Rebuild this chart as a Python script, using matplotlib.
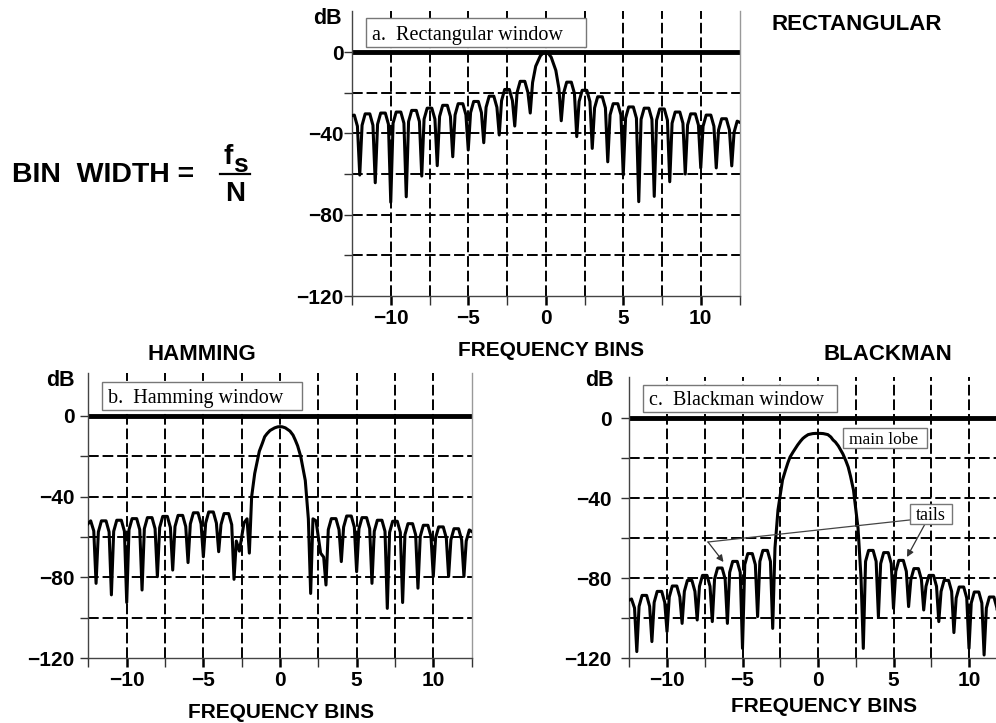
import numpy as np
import matplotlib
matplotlib.use('Agg')
import matplotlib.pyplot as plt
from matplotlib.patches import Rectangle, FancyArrowPatch
from matplotlib.lines import Line2D
from matplotlib.ticker import FixedLocator, NullFormatter, FixedFormatter

plt.rcParams['font.family'] = ['Liberation Sans', 'DejaVu Sans']
SERIF = ['Liberation Serif', 'DejaVu Serif']

# ------------------------------------------------------------
# data: spectrum level (dB)
# one row per frequency bin n, values at n + offsets
# (null at the bin itself, then four points along the lobe)
# ------------------------------------------------------------
offsets = [0.0, 0.15, 0.35, 0.65, 0.85]
bins = list(range(-13, 13))

rect_db = [
    [-60.0, -37.0, -31.5, -31.0, -36.5],   # -13
    [-60.5, -36.0, -30.4, -30.4, -36.0],   # -12
    [-64.3, -35.5, -30.0, -30.0, -35.5],   # -11
    [-73.9, -35.0, -29.5, -29.5, -35.0],   # -10
    [-71.2, -34.2, -28.7, -28.7, -34.2],   # -9
    [-61.0, -33.0, -27.6, -27.6, -33.0],   # -8
    [-55.9, -31.7, -26.2, -26.2, -31.7],   # -7
    [-51.5, -30.9, -25.4, -25.4, -30.9],   # -6
    [-48.2, -29.8, -24.3, -24.3, -29.8],   # -5
    [-44.6, -27.2, -21.7, -21.7, -27.2],   # -4
    [-40.8, -23.9, -18.4, -18.4, -23.9],   # -3
    [-36.4, -19.9, -14.4, -14.4, -19.9],   # -2
    [-30.0, -15.0, -7.0, -1.9, -0.3],      # -1
    [0.0, -0.5, -2.5, -9.0, -18.0],        # 0
    [-33.8, -20.3, -14.8, -14.8, -20.3],   # 1
    [-41.6, -24.3, -18.8, -18.8, -24.3],   # 2
    [-47.4, -27.5, -22.0, -22.0, -27.5],   # 3
    [-54.0, -30.9, -25.4, -25.4, -30.9],   # 4
    [-60.5, -32.5, -27.0, -27.0, -32.5],   # 5
    [-73.6, -33.1, -27.6, -27.6, -33.1],   # 6
    [-71.0, -33.5, -28.0, -28.0, -33.5],   # 7
    [-63.8, -35.0, -29.5, -29.5, -35.0],   # 8
    [-60.0, -35.9, -30.4, -30.4, -35.9],   # 9
    [-57.0, -36.5, -31.0, -31.0, -36.5],   # 10
    [-57.0, -38.3, -32.8, -32.8, -38.3],   # 11
    [-56.0, -39.5, -34.0, -35.0, -41.0],   # 12
]
rect_end = -60.0

ham_db = [
    [-80.0, -59.0, -54.5, -52.0, -57.0],   # -13
    [-83.0, -57.5, -52.0, -52.0, -57.5],   # -12
    [-88.7, -57.2, -51.7, -51.7, -57.2],   # -11
    [-92.5, -56.4, -50.9, -50.9, -56.4],   # -10
    [-86.3, -55.9, -50.4, -50.4, -55.9],   # -9
    [-79.7, -55.3, -49.8, -49.8, -55.3],   # -8
    [-76.4, -54.8, -49.3, -49.3, -54.8],   # -7
    [-72.7, -53.5, -48.0, -48.0, -53.5],   # -6
    [-69.8, -53.1, -47.6, -47.6, -53.1],   # -5
    [-67.3, -53.9, -48.4, -48.4, -53.9],   # -4
    [-81.0, -62.0, -67.0, -53.0, -51.0],   # -3
    [-68.0, -40.0, -28.5, -17.5, -13.5],   # -2
    [-10.3, -8.8, -7.2, -5.9, -5.4],       # -1
    [-5.3, -5.4, -5.9, -7.5, -9.5],        # 0
    [-12.0, -14.8, -20.0, -32.0, -51.0],   # 1
    [-88.0, -51.0, -52.0, -68.0, -70.0],   # 2
    [-83.8, -56.4, -50.9, -50.9, -56.4],   # 3
    [-72.2, -55.1, -49.6, -49.6, -55.1],   # 4
    [-77.2, -55.9, -50.4, -50.4, -55.9],   # 5
    [-83.0, -57.2, -51.7, -51.7, -57.2],   # 6
    [-95.4, -57.7, -52.2, -52.2, -57.7],   # 7
    [-92.5, -58.9, -53.4, -53.4, -58.9],   # 8
    [-85.4, -59.7, -54.2, -54.2, -59.7],   # 9
    [-79.6, -60.5, -55.0, -55.0, -60.5],   # 10
    [-79.6, -61.4, -55.9, -55.9, -61.4],   # 11
    [-79.6, -62.0, -56.5, -58.0, -63.0],   # 12
]
ham_end = -80.0

black_db = [
    [-110.0, -96.0, -91.5, -90.5, -95.0],  # -13
    [-116.8, -94.2, -88.7, -88.7, -94.2],  # -12
    [-111.8, -92.2, -86.7, -86.7, -92.2],  # -11
    [-106.8, -89.5, -84.0, -84.0, -89.5],  # -10
    [-102.7, -86.7, -81.2, -81.2, -86.7],  # -9
    [-101.0, -84.2, -78.7, -78.7, -84.2],  # -8
    [-101.8, -80.5, -75.0, -75.0, -80.5],  # -7
    [-102.7, -77.2, -71.7, -71.7, -77.2],  # -6
    [-115.2, -73.3, -67.8, -67.8, -73.3],  # -5
    [-99.3, -71.7, -66.2, -66.2, -71.7],   # -4
    [-105.2, -65.0, -46.0, -31.0, -26.0],  # -3
    [-22.5, -19.5, -17.0, -13.5, -11.5],   # -2
    [-10.2, -9.3, -8.3, -7.8, -7.7],       # -1
    [-7.7, -7.7, -7.8, -8.3, -9.5],        # 0
    [-11.0, -12.0, -14.0, -18.0, -21.5],   # 1
    [-24.5, -29.0, -36.0, -55.0, -80.0],   # 2
    [-115.2, -71.7, -66.2, -66.2, -71.7],  # 3
    [-99.3, -72.8, -67.3, -67.3, -72.8],   # 4
    [-95.2, -76.7, -71.2, -71.2, -76.7],   # 5
    [-94.3, -80.8, -75.3, -75.3, -80.8],   # 6
    [-96.0, -84.2, -78.7, -78.7, -84.2],   # 7
    [-101.8, -86.7, -81.2, -81.2, -86.7],  # 8
    [-107.3, -90.0, -84.5, -84.5, -90.0],  # 9
    [-115.2, -92.5, -87.0, -87.0, -92.5],  # 10
    [-118.5, -95.0, -89.5, -89.5, -95.0],  # 11
    [-110.0, -96.5, -91.0, -91.0, -96.5],  # 12
]
black_end = -112.0

x_major = [-10, -5, 0, 5, 10]
x_labels = ['\u221210', '\u22125', '0', '5', '10']
x_minor = [-12.5, -7.5, -2.5, 2.5, 7.5, 12.5]
y_major = [0, -40, -80, -120]
y_labels = ['0', '\u221240', '\u221280', '\u2212120']
y_minor = [-20, -60, -100]

# ------------------------------------------------------------
W, H = 996, 723
fig = plt.figure(figsize=(W / 100, H / 100), dpi=100)
fig.patch.set_facecolor('white')


def fx(px):
    return px / W


def fy(py):
    return 1 - py / H


def make_panel(x0, x1, ytop, ybot, top_db, rows, end, ypad):
    ax = fig.add_axes([fx(x0), fy(ybot), (x1 - x0) / W, (ybot - ytop) / H])
    ax.set_xlim(-12.5, 12.5)
    ax.set_ylim(-120, top_db)

    # grid (dashed) behind the curve
    dash = (0, (5.5, 2))
    for gx in x_major + x_minor[1:-1]:
        ax.axvline(gx, color='black', lw=1.4, ls=dash, zorder=1)
    for gy in [-20, -40, -60, -80, -100]:
        ax.axhline(gy, color='black', lw=1.4, ls=dash, zorder=1)
    ax.axhline(0, color='black', lw=3.5, zorder=2)

    xs = np.array([b + o for b in bins for o in offsets] + [13.0])
    ys = np.array([v for r in rows for v in r] + [end])
    ax.plot(xs, ys, color='black', lw=2.2, solid_joinstyle='round', zorder=3)

    ax.spines['top'].set_visible(False)
    ax.spines['left'].set_color('#444444')
    ax.spines['bottom'].set_color('#444444')
    ax.spines['right'].set_color('#999999')
    for s in ax.spines.values():
        s.set_linewidth(1.0)

    ax.xaxis.set_major_locator(FixedLocator(x_major))
    ax.xaxis.set_major_formatter(FixedFormatter(x_labels))
    ax.xaxis.set_minor_locator(FixedLocator(x_minor))
    ax.yaxis.set_major_locator(FixedLocator(y_major))
    ax.yaxis.set_major_formatter(FixedFormatter(y_labels))
    ax.yaxis.set_minor_locator(FixedLocator(y_minor))
    ax.yaxis.set_minor_formatter(NullFormatter())

    ax.tick_params(axis='x', which='major', length=6.5, width=1.8, pad=2.5,
                   labelsize=15, color='black')
    ax.tick_params(axis='x', which='minor', length=6.5, width=1.0, color='#333333')
    ax.tick_params(axis='y', which='both', length=5.8, width=1.0, pad=ypad,
                   labelsize=15, color='#333333')
    for lab in ax.get_xticklabels() + ax.get_yticklabels():
        lab.set_fontweight('bold')
    return ax


ax_a = make_panel(352, 739.5, 11.4, 296, 20, rect_db, rect_end, 0.3)
ax_b = make_panel(88.4, 471.6, 373, 658, 21.3, ham_db, ham_end, 4.3)
ax_c = make_panel(629.25, 1006.75, 377, 658, 20.5, black_db, black_end, 7.0)


def label_box(x0, y0, x1, y1, tx, tb, text, size):
    fig.add_artist(Rectangle((fx(x0), fy(y1)), (x1 - x0) / W, (y1 - y0) / H,
                             transform=fig.transFigure, facecolor='white',
                             edgecolor='#777777', lw=1.0, zorder=5))
    fig.text(fx(tx), fy(tb), text, family=SERIF, fontsize=size,
             ha='left', va='baseline', zorder=6)


label_box(366, 18, 586, 47, 372, 40, 'a.  Rectangular window', 14.5)
label_box(102, 382, 302, 410, 108, 402.5, 'b.  Hamming window', 14.5)
label_box(643, 385, 837, 412, 648.5, 405, 'c.  Blackman window', 14.5)
label_box(843, 428, 927, 448, 848.5, 444, 'main lobe', 12.5)
label_box(910, 504, 952, 524, 916, 520.5, 'tails', 13)

# "tails" pointers
fig.add_artist(Line2D([fx(909.5), fx(708)], [fy(520), fy(542)],
                      transform=fig.transFigure, color='#444444', lw=0.9, zorder=4))
for (xa, ya), (xb, yb) in [((708, 542), (723.5, 562)), ((925, 524), (907, 557))]:
    fig.add_artist(FancyArrowPatch((fx(xa), fy(ya)), (fx(xb), fy(yb)),
                                   transform=fig.transFigure, arrowstyle='-|>',
                                   mutation_scale=10, color='#333333', lw=0.9,
                                   shrinkA=0, shrinkB=0, zorder=4))

# panel titles and axis captions
bold = dict(fontweight='bold', ha='center', va='center')
fig.text(fx(857), fy(24), 'RECTANGULAR', fontsize=16, **bold)
fig.text(fx(202), fy(355), 'HAMMING', fontsize=16, **bold)
fig.text(fx(888), fy(355), 'BLACKMAN', fontsize=16, **bold)
fig.text(fx(551), fy(350), 'FREQUENCY BINS', fontsize=15, **bold)
fig.text(fx(281), fy(712), 'FREQUENCY BINS', fontsize=15, **bold)
fig.text(fx(824), fy(706), 'FREQUENCY BINS', fontsize=15, **bold)
fig.text(fx(327), fy(19), 'dB', fontsize=15.5, **bold)
fig.text(fx(60), fy(381), 'dB', fontsize=15.5, **bold)
fig.text(fx(599), fy(380), 'dB', fontsize=15.5, **bold)

# BIN WIDTH = fs / N
fig.text(fx(12), fy(182), 'BIN  WIDTH =', fontsize=20.5, fontweight='bold',
         ha='left', va='baseline')
fig.text(fx(223), fy(163.5), 'f', fontsize=20, fontweight='bold', ha='left', va='baseline')
fig.text(fx(233), fy(171.5), 's', fontsize=19, fontweight='bold', ha='left', va='baseline')
fig.text(fx(235), fy(201), 'N', fontsize=20, fontweight='bold', ha='center', va='baseline')
fig.add_artist(Line2D([fx(220), fx(250)], [fy(174), fy(174)],
                      transform=fig.transFigure, color='black', lw=1.6))

fig.savefig('out.png', dpi=100)
